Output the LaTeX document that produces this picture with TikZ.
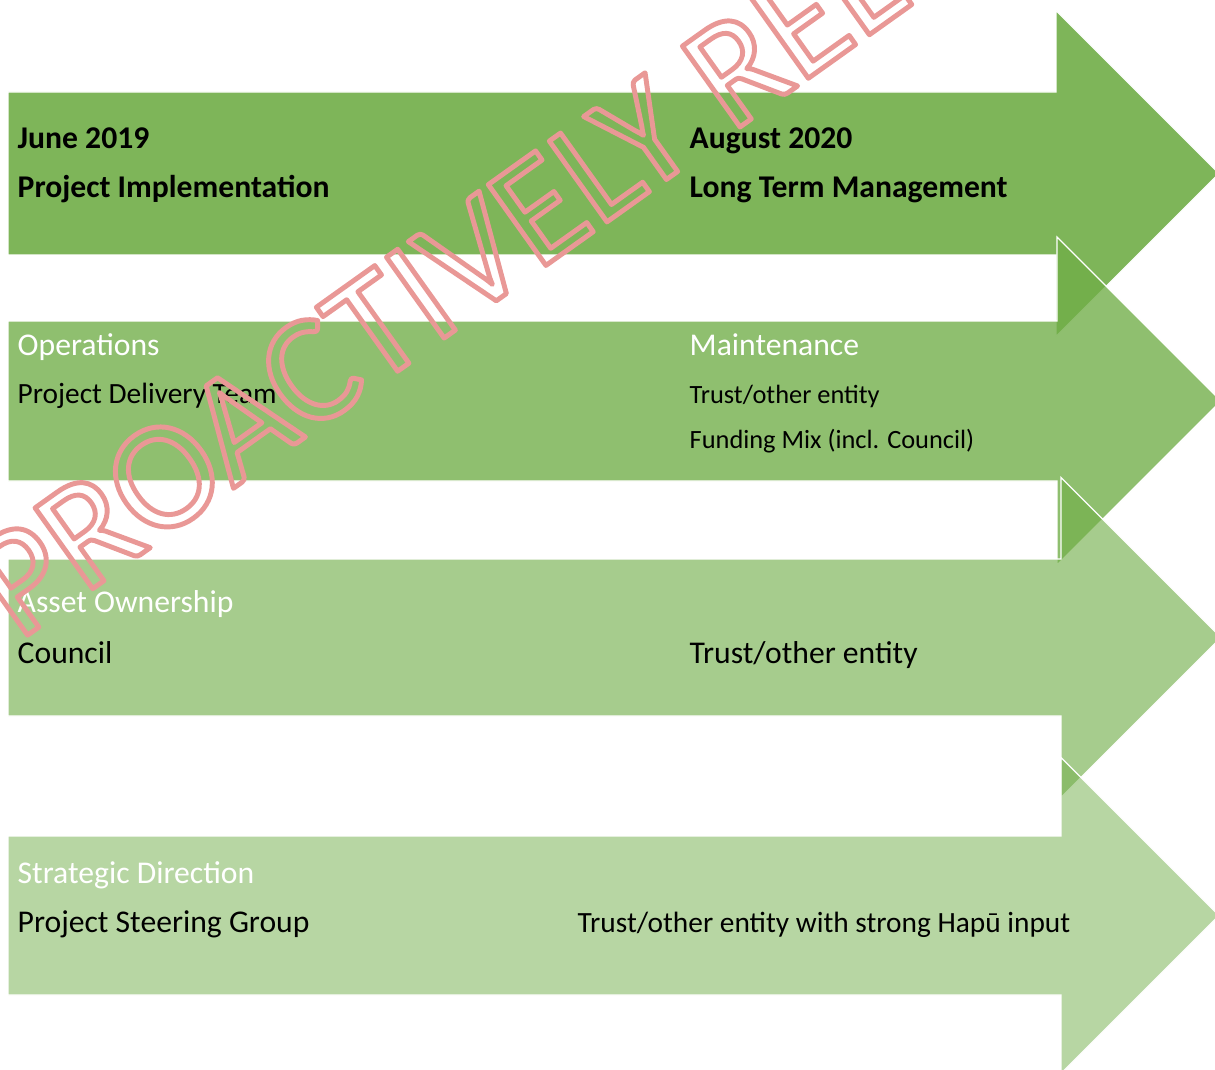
\documentclass[tikz,border=0pt]{standalone}
\usepackage{fontspec}
\setmainfont{Carlito}
\usepackage{tikz}

\definecolor{leafgreen}{RGB}{112,173,71}
\definecolor{stampred}{RGB}{233,152,150}

% outlined glyphs for the stamp
\newcommand{\hollow}[1]{\special{pdf:literal direct 1 Tr 1.4 w 1 j 1 J}#1\special{pdf:literal direct 0 Tr}}

% body from x=8 to the head, head with 45 degree sides
\newcommand{\stagearrow}[5]{%
    \pgfmathsetmacro{\mid}{(#2+#3)/2}
    \draw[band, fill opacity=#1] (8,#2) -- (#4,#2) -- (#4,\mid-#5) -- (#4+#5,\mid) -- (#4,\mid+#5) -- (#4,#3) -- (8,#3) -- cycle;
}

\tikzset{
    band/.style={fill=leafgreen, draw=white, line width=0.35pt},
    title/.style={anchor=base west, inner sep=0pt, font=\bfseries\fontsize{9}{11}\selectfont},
    topic/.style={anchor=base west, inner sep=0pt, text=white, font=\fontsize{9}{11}\selectfont},
    entry/.style={anchor=base west, inner sep=0pt, font=\fontsize{9}{11}\selectfont},
    small/.style={entry, font=\fontsize{7.5}{9}\selectfont},
    mid/.style={entry, font=\fontsize{8.35}{10}\selectfont},
}

\begin{document}
\begin{tikzpicture}[x=0.01cm, y=-0.01cm]
            \useasboundingbox (0,0) rectangle (1215,1070);
            \clip (0,0) rectangle (1215,1070);

            \stagearrow{0.9}{92}{255}{1056}{163}
            \stagearrow{0.78}{321}{481}{1057}{164}
            \stagearrow{0.62}{559}{716}{1061}{160}
            \stagearrow{0.5}{836}{995}{1061}{158}

            % timeline
            \node[title] (start) at (17,149) {June 2019};
            \node[title] (implement) at (17,198) {Project Implementation};
            \node[title] (finish) at (689,149) {August 2020};
            \node[title] (longterm) at (689,198) {Long Term Management};

            % operations
            \node[topic] (operations) at (17,355) {Operations};
            \node[mid] (delivery) at (17,403) {Project Delivery Team};
            \node[topic] (maintenance) at (689,355) {Maintenance};
            \node[small] (trustops) at (689,403) {Trust/other entity};
            \node[small] (funding) at (689,448) {Funding Mix (incl. Council)};

            % ownership
            \node[topic] (ownership) at (17,612) {Asset Ownership};
            \node[entry] (council) at (17,663) {Council};
            \node[entry] (trustasset) at (689,663) {Trust/other entity};

            % direction
            \node[topic] (direction) at (17,883) {Strategic Direction};
            \node[entry] (steering) at (17,932) {Project Steering Group};
            \node[mid] (trusthapu) at (577,932) {Trust/other entity with strong Hapū input};

            \node[anchor=base west, inner sep=0pt, rotate=35.5, text=stampred,
                font=\fontsize{44}{44}\selectfont] (stamp) at (18,642) {\hollow{PROACTIVELY RELEASED}};
        \end{tikzpicture}
\end{document}
